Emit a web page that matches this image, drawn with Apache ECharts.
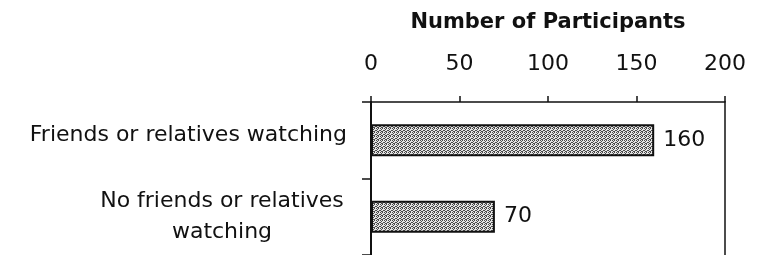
<!DOCTYPE html>
<html>
<head>
<meta charset="utf-8">
<script src="https://cdn.jsdelivr.net/npm/echarts@6/dist/echarts.min.js"></script>
<style>
  html, body { margin: 0; padding: 0; background: #fff; }
  #chart { width: 757px; height: 255px; }
</style>
</head>
<body>
<div id="chart"></div>
<script>
const categories = ['Friends or relatives watching', 'No friends or relatives\nwatching']
const participants = [160, 70]
const axisTitle = 'Number of Participants'

// dotted grey fill like the scanned bars
function dotPattern() {
  const c = document.createElement('canvas')
  c.width = 4
  c.height = 4
  const ctx = c.getContext('2d')
  ctx.fillStyle = '#e4e4e4'
  ctx.fillRect(0, 0, 4, 4)
  ctx.fillStyle = '#4a4a4a'
  ;[[0, 0], [2, 0], [1, 1], [3, 2], [0, 2], [2, 3], [1, 3]].forEach(p => ctx.fillRect(p[0], p[1], 1, 1))
  return c
}

const font = 'DejaVu Sans'
const chart = echarts.init(document.getElementById('chart'))

chart.setOption({
  animation: false,
  grid: { left: 371, top: 102, width: 354, height: 155, containLabel: false },
  xAxis: {
    type: 'value',
    position: 'top',
    min: 0,
    max: 200,
    interval: 50,
    name: axisTitle,
    nameLocation: 'middle',
    nameGap: 69,
    nameTextStyle: { fontFamily: font, fontSize: 21, fontWeight: 'bold', color: '#111' },
    axisLine: { show: true, lineStyle: { color: '#111', width: 1.5 } },
    axisTick: { show: true, length: 6, lineStyle: { color: '#111', width: 1.5 } },
    axisLabel: { margin: 27, fontFamily: font, fontSize: 22, color: '#111' },
    splitLine: { show: false }
  },
  yAxis: [
    {
      type: 'category',
      inverse: true,
      data: categories,
      axisLine: { show: true, lineStyle: { color: '#111', width: 2 } },
      axisTick: { show: true, length: 9, lineStyle: { color: '#111', width: 1.5 } },
      axisLabel: {
        margin: 24,
        fontFamily: font,
        fontSize: 22,
        color: '#111',
        formatter: (v, i) => i === 1 ? v.split('\n').map(s => '{c|' + s + '}').join('\n') : '{t|' + v + '}',
        rich: {
          t: { fontFamily: font, fontSize: 22, color: '#111', padding: [0, 0, 10, 0] },
          c: { fontFamily: font, fontSize: 22, color: '#111', width: 250, align: 'center', lineHeight: 31 }
        }
      }
    },
    {
      type: 'category',
      position: 'right',
      inverse: true,
      data: categories,
      axisLine: { show: true, lineStyle: { color: '#111', width: 1.5 } },
      axisTick: { show: false },
      axisLabel: { show: false }
    }
  ],
  series: [{
    type: 'bar',
    data: participants,
    barWidth: 32,
    itemStyle: {
      color: { image: dotPattern(), repeat: 'repeat' },
      borderColor: '#111',
      borderWidth: 2
    },
    label: {
      show: true,
      position: 'right',
      distance: 9,
      fontFamily: font,
      fontSize: 22,
      color: '#111'
    }
  }]
})

window.addEventListener('resize', () => chart.resize())
</script>
</body>
</html>
